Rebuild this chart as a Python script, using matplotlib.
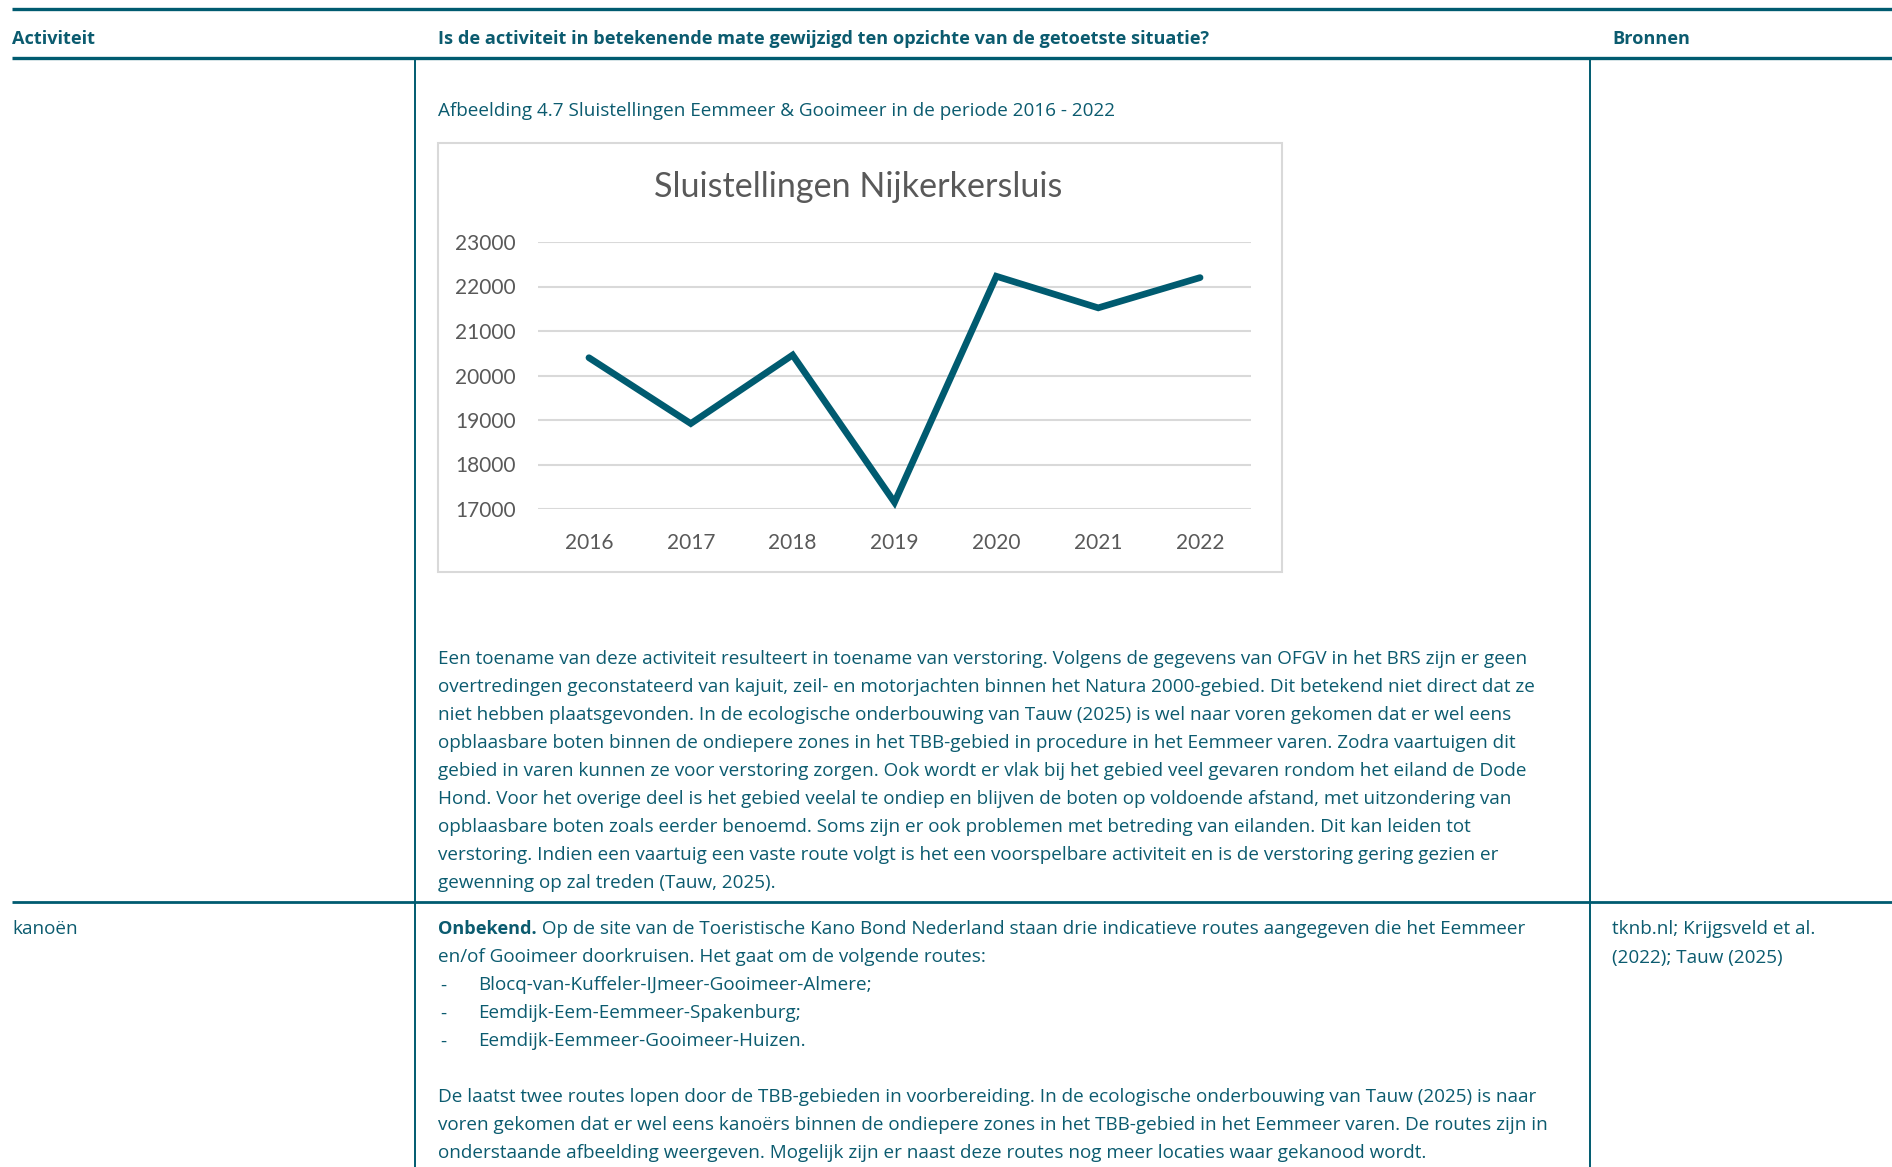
import matplotlib
matplotlib.use("Agg")
import matplotlib.pyplot as plt
from matplotlib.patches import Rectangle

# ---------------- data ----------------
years = ["2016", "2017", "2018", "2019", "2020", "2021", "2022"]
sluistellingen = [20400, 18920, 20460, 17150, 22230, 21520, 22200]
y_ticks = [17000, 18000, 19000, 20000, 21000, 22000, 23000]

chart_title = "Sluistellingen Nijkerkersluis"
caption = "Afbeelding 4.7 Sluistellingen Eemmeer & Gooimeer in de periode 2016 - 2022"

header_cols = ["Activiteit",
               "Is de activiteit in betekenende mate gewijzigd ten opzichte van de getoetste situatie?",
               "Bronnen"]

para1 = [
    "Een toename van deze activiteit resulteert in toename van verstoring. Volgens de gegevens van OFGV in het BRS zijn er geen",
    "overtredingen geconstateerd van kajuit, zeil- en motorjachten binnen het Natura 2000-gebied. Dit betekend niet direct dat ze",
    "niet hebben plaatsgevonden. In de ecologische onderbouwing van Tauw (2025) is wel naar voren gekomen dat er wel eens",
    "opblaasbare boten binnen de ondiepere zones in het TBB-gebied in procedure in het Eemmeer varen. Zodra vaartuigen dit",
    "gebied in varen kunnen ze voor verstoring zorgen. Ook wordt er vlak bij het gebied veel gevaren rondom het eiland de Dode",
    "Hond. Voor het overige deel is het gebied veelal te ondiep en blijven de boten op voldoende afstand, met uitzondering van",
    "opblaasbare boten zoals eerder benoemd. Soms zijn er ook problemen met betreding van eilanden. Dit kan leiden tot",
    "verstoring. Indien een vaartuig een vaste route volgt is het een voorspelbare activiteit en is de verstoring gering gezien er",
    "gewenning op zal treden (Tauw, 2025).",
]

row2_activity = "kanoën"
row2_bold = "Onbekend."
row2_first = " Op de site van de Toeristische Kano Bond Nederland staan drie indicatieve routes aangegeven die het Eemmeer"
row2_second = "en/of Gooimeer doorkruisen. Het gaat om de volgende routes:"
row2_bullets = ["Blocq-van-Kuffeler-IJmeer-Gooimeer-Almere;",
                "Eemdijk-Eem-Eemmeer-Spakenburg;",
                "Eemdijk-Eemmeer-Gooimeer-Huizen."]
row2_para = [
    "De laatst twee routes lopen door de TBB-gebieden in voorbereiding. In de ecologische onderbouwing van Tauw (2025) is naar",
    "voren gekomen dat er wel eens kanoërs binnen de ondiepere zones in het TBB-gebied in het Eemmeer varen. De routes zijn in",
    "onderstaande afbeelding weergeven. Mogelijk zijn er naast deze routes nog meer locaties waar gekanood wordt.",
]
row2_sources = ["tknb.nl; Krijgsveld et al.", "(2022); Tauw (2025)"]

# ---------------- style ----------------
W, H = 1892, 1167
TEAL = "#0b5b6f"
LINE = "#005b70"
GREY = "#595959"
BODY_FONT = ["Open Sans", "DejaVu Sans"]
CHART_FONT = ["Lato", "DejaVu Sans"]
FS = 13.6
FSB = 13.1

fig = plt.figure(figsize=(W / 100, H / 100), dpi=100)
fig.patch.set_facecolor("white")

bg = fig.add_axes([0, 0, 1, 1])
bg.set_xlim(0, W)
bg.set_ylim(H, 0)
bg.axis("off")

# table rules
bg.plot([12, W], [8.5, 8.5], color=LINE, lw=2.4, solid_capstyle="butt")
bg.plot([12, W], [58, 58], color=LINE, lw=2.4, solid_capstyle="butt")
bg.plot([12, W], [902, 902], color=LINE, lw=2.0, solid_capstyle="butt")
for xv in (415, 1590):
    bg.plot([xv, xv], [58, H], color=LINE, lw=1.4)

# header
hx = [12, 438, 1612]
for x, t in zip(hx, header_cols):
    bg.text(x, 38.5, t, color=TEAL, fontsize=FSB, fontweight="bold",
            family=BODY_FONT, va="center", ha="left")

# caption
bg.text(438, 111, caption, color=TEAL, fontsize=FS, family=BODY_FONT,
        va="center", ha="left")

# chart frame
bg.add_patch(Rectangle((438, 143), 844, 429, facecolor="white",
                       edgecolor="#d9d9d9", lw=1.5))
bg.text(858, 187, chart_title, color=GREY, fontsize=24.6, family=CHART_FONT,
        va="center", ha="center")

# paragraph 1
for i, line in enumerate(para1):
    bg.text(438, 659 + i * 28.05, line, color=TEAL, fontsize=FS,
            family=BODY_FONT, va="center", ha="left")

# row 2
bg.text(12, 929.5, row2_activity, color=TEAL, fontsize=FS, family=BODY_FONT,
        va="center", ha="left")
tb = bg.text(438, 929.5, row2_bold, color=TEAL, fontsize=FSB, fontweight="bold",
             family=BODY_FONT, va="center", ha="left")
fig.canvas.draw()
bb = tb.get_window_extent(renderer=fig.canvas.get_renderer())
bg.text(bb.x1, 929.5, row2_first, color=TEAL, fontsize=FS, family=BODY_FONT,
        va="center", ha="left")
bg.text(438, 957.5, row2_second, color=TEAL, fontsize=FS, family=BODY_FONT,
        va="center", ha="left")
for i, b in enumerate(row2_bullets):
    yy = 985.5 + i * 28
    bg.text(440, yy, "-", color=TEAL, fontsize=FS, family=BODY_FONT,
            va="center", ha="left")
    bg.text(478, yy, b, color=TEAL, fontsize=FS, family=BODY_FONT,
            va="center", ha="left")
for i, line in enumerate(row2_para):
    bg.text(438, 1097.5 + i * 28, line, color=TEAL, fontsize=FS,
            family=BODY_FONT, va="center", ha="left")
for i, s in enumerate(row2_sources):
    bg.text(1612, 929.5 + i * 28, s, color=TEAL, fontsize=FS, family=BODY_FONT,
            va="center", ha="left")

# ---------------- chart ----------------
x0, x1 = 538, 1251
ytop, ybot = 242, 509
ax = fig.add_axes([x0 / W, (H - ybot) / H, (x1 - x0) / W, (ybot - ytop) / H])
ax.set_facecolor("none")
xs = list(range(len(years)))
ax.plot(xs, sluistellingen, color=LINE, lw=4.8, solid_joinstyle="miter",
        solid_capstyle="round", clip_on=False, zorder=3)
ax.set_xlim(-0.5, len(years) - 0.5)
ax.set_ylim(y_ticks[0], y_ticks[-1])
ax.set_yticks(y_ticks)
ax.set_yticklabels([str(v) for v in y_ticks])
ax.set_xticks(xs)
ax.set_xticklabels(years)
ax.grid(axis="y", color="#d9d9d9", lw=1.5)
ax.set_axisbelow(True)
for sp in ax.spines.values():
    sp.set_visible(False)
ax.tick_params(length=0, labelsize=15, labelcolor=GREY)
ax.tick_params(axis="y", pad=16)
ax.tick_params(axis="x", pad=17)
for lab in ax.get_xticklabels() + ax.get_yticklabels():
    lab.set_family(CHART_FONT)

fig.savefig("out.png", dpi=100, facecolor="white")
